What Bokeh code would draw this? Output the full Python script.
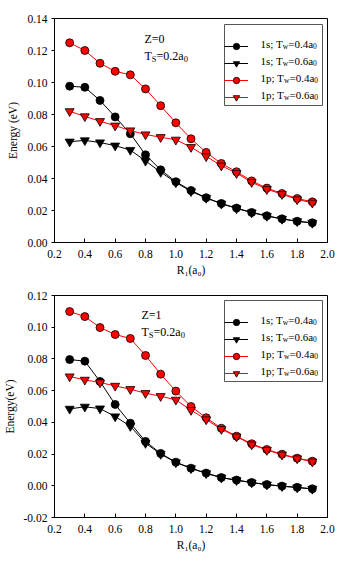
from bokeh.plotting import figure
from bokeh.layouts import column
from bokeh.models import (FixedTicker, NumeralTickFormatter, Legend, LegendItem,
                          Label, Range1d, BoxAnnotation)
from bokeh.core.properties import value
from bokeh.embed import file_html
from bokeh.resources import INLINE

# ---------------- data ----------------
r1 = [0.3, 0.4, 0.5, 0.6, 0.7, 0.8, 0.9, 1.0, 1.1, 1.2, 1.3, 1.4, 1.5, 1.6, 1.7, 1.8, 1.9]

z0_1s_tw04 = [0.0977, 0.0970, 0.0888, 0.0785, 0.0680, 0.0548, 0.0454, 0.0380, 0.0325,
              0.0280, 0.0244, 0.0215, 0.0188, 0.0167, 0.0148, 0.0133, 0.0123]
z0_1s_tw06 = [0.0630, 0.0638, 0.0625, 0.0605, 0.0578, 0.0510, 0.0440, 0.0375, 0.0320,
              0.0278, 0.0242, 0.0213, 0.0187, 0.0165, 0.0147, 0.0132, 0.0122]
z0_1p_tw04 = [0.1248, 0.1200, 0.1120, 0.1070, 0.1048, 0.0960, 0.0855, 0.0748, 0.0648,
              0.0563, 0.0494, 0.0442, 0.0385, 0.0340, 0.0306, 0.0275, 0.0254]
z0_1p_tw06 = [0.0820, 0.0788, 0.0758, 0.0730, 0.0700, 0.0675, 0.0658, 0.0642, 0.0596,
              0.0538, 0.0480, 0.0433, 0.0377, 0.0333, 0.0302, 0.0269, 0.0248]

z1_1s_tw04 = [0.0796, 0.0786, 0.0658, 0.0513, 0.0395, 0.0280, 0.0204, 0.0149, 0.0111,
              0.0080, 0.0052, 0.0036, 0.0021, 0.0008, -0.0002, -0.0010, -0.0019]
z1_1s_tw06 = [0.0485, 0.0498, 0.0487, 0.0437, 0.0376, 0.0269, 0.0200, 0.0147, 0.0110,
              0.0078, 0.0051, 0.0035, 0.0020, 0.0007, -0.0003, -0.0011, -0.0020]
z1_1p_tw04 = [0.1099, 0.1067, 0.0998, 0.0954, 0.0929, 0.0822, 0.0704, 0.0597, 0.0500,
              0.0429, 0.0363, 0.0313, 0.0265, 0.0229, 0.0199, 0.0174, 0.0155]
z1_1p_tw06 = [0.0689, 0.0668, 0.0651, 0.0630, 0.0609, 0.0584, 0.0565, 0.0542, 0.0477,
              0.0418, 0.0357, 0.0310, 0.0260, 0.0225, 0.0196, 0.0172, 0.0152]

x_ticks = [0.2, 0.4, 0.6, 0.8, 1.0, 1.2, 1.4, 1.6, 1.8, 2.0]
y_ticks_top = [0.00, 0.02, 0.04, 0.06, 0.08, 0.10, 0.12, 0.14]
y_ticks_bot = [-0.02, 0.00, 0.02, 0.04, 0.06, 0.08, 0.10, 0.12]

legend_rows = [
    [("1s; T", False), ("w", True), ("=0.4a", False), ("0", True)],
    [("1s; T", False), ("w", True), ("=0.6a", False), ("0", True)],
    [("1p; T", False), ("w", True), ("=0.4a", False), ("0", True)],
    [("1p; T", False), ("w", True), ("=0.6a", False), ("0", True)],
]

FONT = "Liberation Serif"

# Times-metric advance widths (per 1000 em)
W = {'0': 500, '1': 500, '2': 500, '3': 500, '4': 500, '5': 500, '6': 500, '7': 500,
     '8': 500, '9': 500, 's': 389, ';': 278, ' ': 250, 'T': 611, '=': 564, '.': 250,
     'a': 444, 'w': 722, 'p': 500, 'Z': 611, 'S': 556}


def tw(s, size):
    return sum(W.get(c, 500) for c in s) * size / 1000.0


def rich(p, x, y, parts, size, sub_size, sub_drop=2.5):
    for txt, sub in parts:
        fs = sub_size if sub else size
        p.add_layout(Label(x=x, y=y - (sub_drop if sub else 0), x_units="screen",
                           y_units="screen", text=txt, text_font=FONT,
                           text_font_size=f"{fs}px", text_baseline="alphabetic",
                           text_align="left", text_color="black"))
        x += tw(txt, fs)


def make_panel(series, yr, yticks, ylabel, ztext, zlabel, height, btop, bbot, top_off):
    p = figure(width=338, height=height, output_backend="svg", toolbar_location=None,
               x_range=Range1d(0.2, 2.0), y_range=Range1d(*yr),
               min_border_left=53, min_border_right=11,
               min_border_top=btop, min_border_bottom=bbot)
    p.xgrid.visible = False
    p.ygrid.visible = False
    p.outline_line_color = "black"
    p.outline_line_alpha = 1.0
    p.outline_line_width = 1
    p.background_fill_color = "white"
    p.border_fill_color = "white"

    p.xaxis.ticker = FixedTicker(ticks=x_ticks)
    p.xaxis.formatter = NumeralTickFormatter(format="0.0")
    p.yaxis.ticker = FixedTicker(ticks=yticks)
    p.yaxis.formatter = NumeralTickFormatter(format="0.00")
    for ax in (p.xaxis[0], p.yaxis[0]):
        ax.axis_line_color = "black"
        ax.major_tick_line_color = "black"
        ax.minor_tick_line_color = None
        ax.major_label_text_font = FONT
        ax.major_label_text_font_size = "11.5px"
        ax.major_label_text_color = "black"
        ax.axis_label_text_font = FONT
        ax.axis_label_text_font_size = "11.5px"
        ax.axis_label_text_font_style = "normal"
        ax.axis_label_text_color = "black"
    p.xaxis.major_tick_in = 4
    p.xaxis.major_tick_out = 0
    p.yaxis.major_tick_in = 0
    p.yaxis.major_tick_out = 3
    p.xaxis.major_label_standoff = 7
    p.xaxis.axis_label_standoff = 3
    p.yaxis.major_label_standoff = 4
    p.yaxis.axis_label_standoff = 5
    p.xaxis.axis_label = "R\u2081(a\u2080)"
    p.yaxis.axis_label = ylabel

    items = []
    styles = [("black", "black", "circle", 8),
              ("black", "black", "inverted_triangle", 9),
              ("red", "red", "circle", 8),
              ("red", "red", "inverted_triangle", 9)]
    for ys, (lc, fc, mk, sz) in zip(series, styles):
        ln = p.line(r1, ys, line_color=lc, line_width=1)
        sc = p.scatter(r1, ys, marker=mk, size=sz, fill_color=fc, line_color="black",
                       line_width=0.8)
        items.append(LegendItem(label=value(" "), renderers=[ln, sc]))

    pad, gw, gh, sp, stand, lw = 7, 24, 16, 1, 5, 55
    n = len(items)
    box_h = 2 * pad + n * gh + (n - 1) * sp
    box_w = 2 * pad + gw + stand + lw
    frame_h = height - btop - bbot
    loc_x = 170
    loc_y = frame_h - top_off - box_h
    legend = Legend(items=items, location=(loc_x, loc_y), orientation="vertical",
                    padding=pad, spacing=sp, glyph_width=gw, glyph_height=gh,
                    label_height=gh, label_width=lw, label_standoff=stand, margin=0,
                    border_line_color=None, background_fill_color=None,
                    label_text_font=FONT, label_text_font_size="6px")
    p.add_layout(legend)
    p.add_layout(BoxAnnotation(left=loc_x, right=loc_x + box_w, bottom=loc_y,
                               top=loc_y + box_h, left_units="screen",
                               right_units="screen", bottom_units="screen",
                               top_units="screen", fill_color=None,
                               line_color="#555555", line_width=1, line_alpha=1.0))

    tx = loc_x + pad + gw + stand
    for i, parts in enumerate(legend_rows):
        cy = frame_h - top_off - pad - i * (gh + sp) - gh / 2.0
        rich(p, tx, cy - 4, parts, 11, 7.5)

    zx, zy = zlabel
    rich(p, zx, zy, [(ztext, False)], 12, 8)
    rich(p, zx, zy - 17, [("T", False), ("S", True), ("=0.2a", False), ("0", True)], 12, 8.5, 3)
    return p


p1 = make_panel([z0_1s_tw04, z0_1s_tw06, z0_1p_tw04, z0_1p_tw06], (0.0, 0.14), y_ticks_top,
                "Energy (eV)", "Z=0", (90, 204), 280, 18, 38, 6)
p2 = make_panel([z1_1s_tw04, z1_1s_tw06, z1_1p_tw04, z1_1p_tw06], (-0.02, 0.12), y_ticks_bot,
                "Energy(eV)", "Z=1", (87, 203), 274, 15, 37, 5)

layout = column(p1, p2, spacing=0)
open("out.html", "w").write(file_html(layout, INLINE))
